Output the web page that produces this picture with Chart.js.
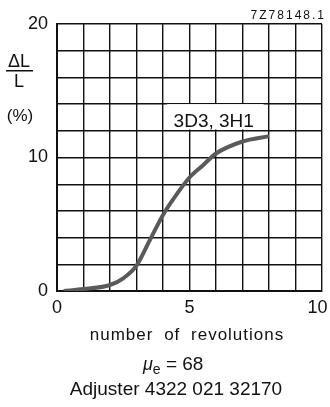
<!DOCTYPE html>
<html>
<head>
<meta charset="utf-8">
<script src="https://cdn.jsdelivr.net/npm/chart.js@4/dist/chart.umd.min.js"></script>
<style>
html,body{margin:0;padding:0;background:#fff;}
#wrap{width:330px;height:407px;}
</style>
</head>
<body>
<div id="wrap"><canvas id="c" width="330" height="407"></canvas></div>
<script>
// Data
const revolutions   = [0.25, 1, 2, 2.5, 3, 3.5, 4, 4.5, 5, 5.5, 6, 7, 8];
const deltaLPercent = [0, 0.15, 0.45, 0.95, 1.9, 3.8, 5.7, 7.2, 8.5, 9.4, 10.3, 11.2, 11.6];
const xTickLabels = [0, 5, 10];
const yTickLabels = [0, 10, 20];
const seriesLabel = '3D3, 3H1';
const xTitle = 'number of revolutions';
const muLine = ['\u03BC', 'e', ' = 68'];
const adjusterText = 'Adjuster 4322 021 32170';
const figureCode = '7Z78148.1';

const FONT = '"Liberation Sans", Arial, sans-serif';
const points = revolutions.map((x, i) => ({x: x, y: deltaLPercent[i]}));

const textPlugin = {
  id: 'texts',
  afterDraw(chart) {
    const ctx = chart.ctx;
    const xs = chart.scales.x, ys = chart.scales.y;
    ctx.save();
    ctx.fillStyle = '#111';
    // figure code
    ctx.font = '12px ' + FONT;
    ctx.letterSpacing = '2px';
    ctx.textAlign = 'right';
    ctx.textBaseline = 'alphabetic';
    ctx.fillText(figureCode, 326, 19);
    ctx.letterSpacing = '0px';
    // y axis title: ΔL / L  (%)
    ctx.textAlign = 'center';
    ctx.font = '18px ' + FONT;
    ctx.fillText('\u0394L', 19, 67);
    ctx.fillRect(6, 70, 27, 1.5);
    ctx.fillText('L', 19, 87);
    ctx.font = '17px ' + FONT;
    ctx.fillText('(%)', 20, 121);
    // series label with white box
    const bx1 = xs.getPixelForValue(4.15), bx2 = xs.getPixelForValue(7.8);
    const by1 = ys.getPixelForValue(14.0), by2 = ys.getPixelForValue(12.1);
    ctx.fillStyle = '#fff';
    ctx.fillRect(bx1, by1, bx2 - bx1, by2 - by1);
    ctx.fillStyle = '#111';
    ctx.font = '19px ' + FONT;
    ctx.textAlign = 'left';
    ctx.fillText(seriesLabel, xs.getPixelForValue(4.4), ys.getPixelForValue(12.3));
    // bottom texts
    ctx.textAlign = 'center';
    ctx.font = '17px ' + FONT;
    ctx.letterSpacing = '1px';
    ctx.wordSpacing = '5px';
    ctx.fillText(xTitle, 187, 340);
    ctx.wordSpacing = '0px';
    ctx.letterSpacing = '0px';
    // mu_e = 68
    ctx.font = 'italic 18px ' + FONT;
    ctx.textAlign = 'left';
    let mx = 143;
    ctx.fillText(muLine[0], mx, 370);
    mx += ctx.measureText(muLine[0]).width;
    ctx.font = '14px ' + FONT;
    ctx.fillText(muLine[1], mx, 374);
    mx += ctx.measureText(muLine[1]).width;
    ctx.font = '19px ' + FONT;
    ctx.fillText(muLine[2], mx, 370);
    // adjuster
    ctx.textAlign = 'center';
    ctx.font = '19px ' + FONT;
    ctx.fillText(adjusterText, 176, 395);
    ctx.restore();
  }
};

new Chart(document.getElementById('c'), {
  type: 'line',
  data: {
    datasets: [{
      label: seriesLabel,
      data: points,
      borderColor: '#5a5a5a',
      borderWidth: 4,
      pointRadius: 0,
      fill: false,
      cubicInterpolationMode: 'monotone'
    }]
  },
  options: {
    responsive: false,
    animation: false,
    devicePixelRatio: 1,
    layout: {padding: {top: 24, right: 8, left: 0, bottom: 0}},
    plugins: {legend: {display: false}, tooltip: {enabled: false}},
    scales: {
      x: {
        type: 'linear', min: 0, max: 10,
        afterBuildTicks(s) { s.ticks = []; for (let v = 0; v <= 10; v++) s.ticks.push({value: v}); },
        afterFit(s) { s.height = 116; s.paddingLeft = 0; s.paddingRight = 0; },
        grid: {color: '#111', lineWidth: 1.4, drawTicks: false},
        border: {display: true, color: '#111', width: 2},
        ticks: {
          padding: 6, color: '#111', font: {family: FONT, size: 18},
          maxRotation: 0, autoSkip: false,
          callback: v => xTickLabels.includes(v) ? (v === 10 ? '10\u2002' : String(v)) : ''
        }
      },
      y: {
        type: 'linear', min: 0, max: 20,
        afterBuildTicks(s) { s.ticks = []; for (let v = 0; v <= 20; v += 2) s.ticks.push({value: v}); },
        afterFit(s) { s.width = 57; },
        grid: {color: '#111', lineWidth: 1.4, drawTicks: false},
        border: {display: true, color: '#111', width: 2},
        ticks: {
          padding: 9, color: '#111', font: {family: FONT, size: 18},
          autoSkip: false,
          callback: v => yTickLabels.includes(v) ? String(v) : ''
        }
      }
    }
  },
  plugins: [textPlugin]
});
</script>
</body>
</html>
